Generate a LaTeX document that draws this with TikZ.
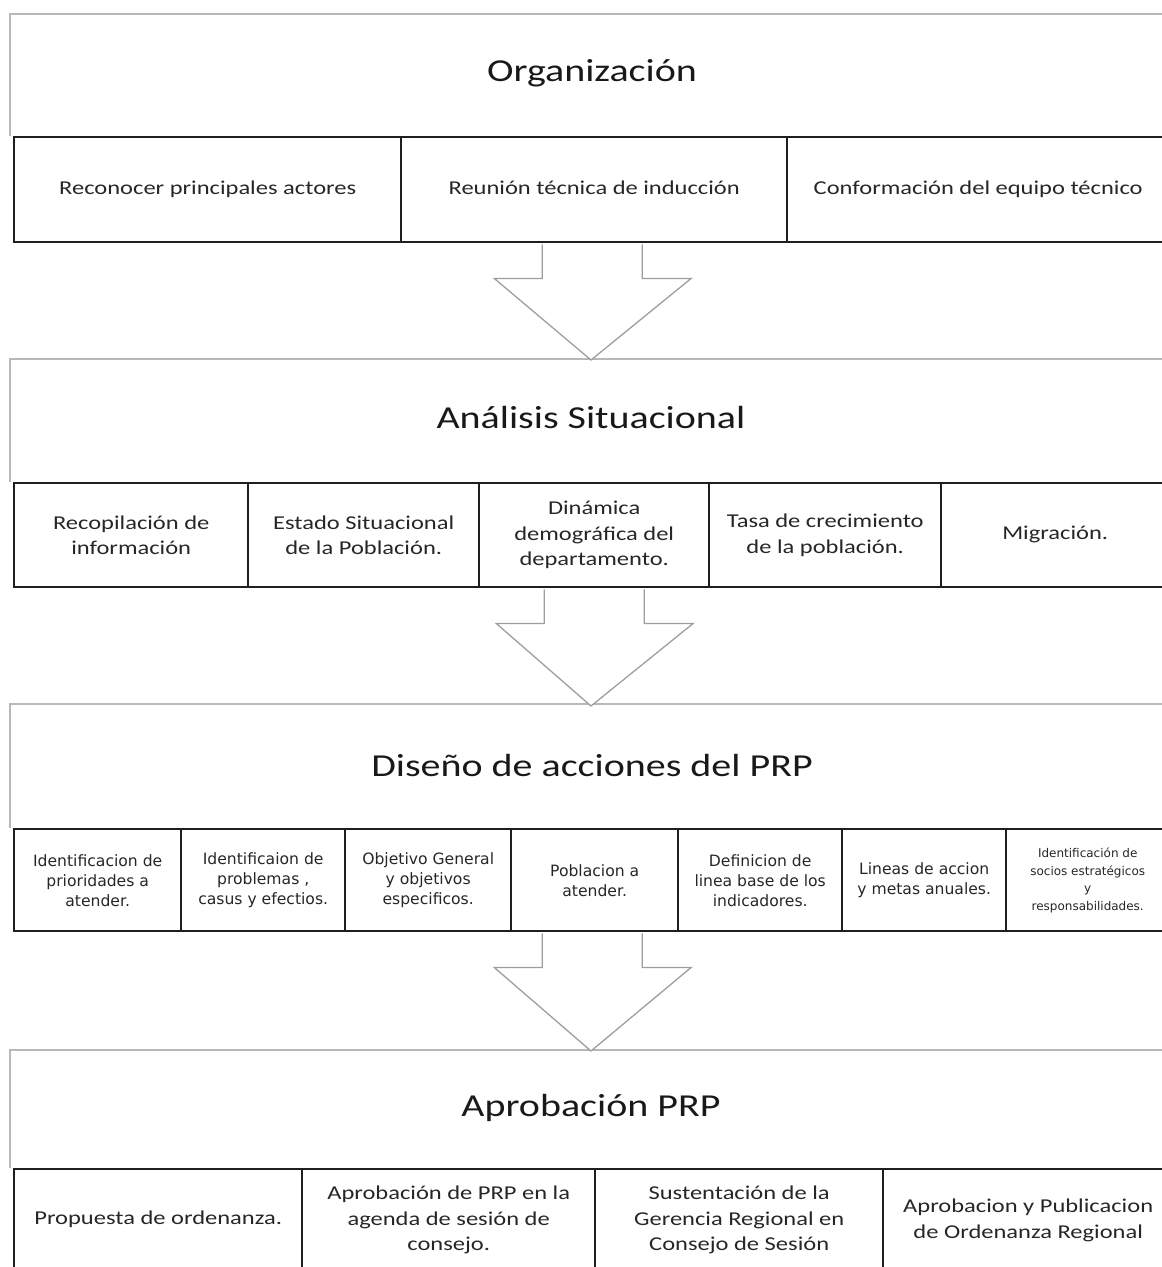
\documentclass[tikz,border=0pt]{standalone}
\usepackage{fontspec}
\setmainfont{Carlito}[FakeStretch=1.25]
\newfontfamily\smallfam{DejaVu Sans}
\usetikzlibrary{calc}
\tikzset{
  sectline/.style={draw=black!28, line width=1.3pt},
  blockarrow/.style={draw=black!38, line width=1.3pt, fill=white, line join=miter},
  cell/.style={draw=black!88, line width=2.4pt, inner sep=2pt, anchor=north west,
               align=center, text=black!85, font=\fontsize{19.6}{25.5}\selectfont},
  oneline/.style={cell, text height=13pt, text depth=4pt},
  cellsm/.style={cell, font=\smallfam\fontsize{15.6}{20}\selectfont},
  celltiny/.style={cell, font=\smallfam\fontsize{12}{17.5}\selectfont},
  ttl/.style={text=black!90, font=\fontsize{32}{38}\selectfont, inner sep=0pt}
}
\begin{document}
\begin{tikzpicture}[x=1pt,y=-1pt]
\useasboundingbox (0,0) rectangle (1162,1267);
\clip (0,0) rectangle (1162,1267);

% ---------- section frames (gray) ----------
\coordinate (t1) at (591,14);
\coordinate (t2) at (591,359);
\coordinate (t3) at (591,704);
\coordinate (t4) at (591,1050);
\draw[sectline] (10,136) -- (10,14) -- (1200,14);
\draw[sectline] (10,482) -- (10,359) -- (1200,359);
\draw[sectline] (10,828) -- (10,704) -- (1200,704);
\draw[sectline] (10,1168) -- (10,1050) -- (1200,1050);

% ---------- titles ----------
\node[ttl] (h1) at (592,73) {Organización};
\node[ttl] (h2) at (591,418) {Análisis Situacional};
\node[ttl] (h3) at (592,765) {Diseño de acciones del PRP};
\node[ttl] (h4) at (591,1108) {Aprobación PRP};

% ---------- row 1 ----------
\node[oneline, minimum width=387, minimum height=105] (a1) at (13,136) {Reconocer principales actores};
\node[oneline, minimum width=386, minimum height=105] (a2) at (400,136) {Reunión técnica de inducción};
\node[oneline, minimum width=382, minimum height=105] (a3) at (786,136) {Conformación del equipo técnico};

% ---------- row 2 ----------
\node[cell, minimum width=234, minimum height=104] (b1) at (13,482) {Recopilación de\\información};
\node[cell, minimum width=231, minimum height=104] (b2) at (247,482) {Estado Situacional\\de la Población.};
\node[cell, minimum width=230, minimum height=104] (b3) at (478,482) {Dinámica\\demográfica del\\departamento.};
\node[cell, minimum width=232, minimum height=104] (b4) at (708,482) {Tasa de crecimiento\\de la población.};
\node[oneline, minimum width=228, minimum height=104] (b5) at (940,482) {Migración.};

% ---------- row 3 ----------
\node[cellsm, minimum width=167, minimum height=102] (c1) at (13,828) {Identificacion de\\prioridades a\\atender.};
\node[cellsm, minimum width=164, minimum height=102] (c2) at (180,828) {Identificaion de\\problemas ,\\casus y efectios.};
\node[cellsm, minimum width=166, minimum height=102] (c3) at (344,828) {Objetivo General\\y objetivos\\especificos.};
\node[cellsm, minimum width=167, minimum height=102] (c4) at (510,828) {Poblacion a\\atender.};
\node[cellsm, minimum width=164, minimum height=102] (c5) at (677,828) {Definicion de\\linea base de los\\indicadores.};
\node[cellsm, minimum width=164, minimum height=102] (c6) at (841,828) {Lineas de accion\\y metas anuales.};
\node[celltiny, minimum width=163, minimum height=102] (c7) at (1005,828) {Identificación de\\socios estratégicos\\y\\responsabilidades.};

% ---------- row 4 ----------
\node[oneline, minimum width=288, minimum height=102] (d1) at (13,1168) {Propuesta de ordenanza.};
\node[cell, minimum width=293, minimum height=102] (d2) at (301,1168) {Aprobación de PRP en la\\agenda de sesión de\\consejo.};
\node[cell, minimum width=288, minimum height=102] (d3) at (594,1168) {Sustentación de la\\Gerencia Regional en\\Consejo de Sesión};
\node[cell, minimum width=290, minimum height=102] (d4) at (882,1168) {Aprobacion y Publicacion\\de Ordenanza Regional};

% ---------- block arrows ----------
\coordinate (s1) at ($(a2.south)+(-2,0)$);
\coordinate (s2) at (b3.south);
\coordinate (s3) at ($(c4.south)+(-2.5,0)$);
\draw[blockarrow] ($(s1)+(-50,1)$) -- ($(s1)+(-50,35)$) -- ($(s1)+(-98,35)$) -- ($(t2)+(0,1)$)
   -- ($(s1)+(99,35)$) -- ($(s1)+(50,35)$) -- ($(s1)+(50,1)$);
\draw[blockarrow] ($(s2)+(-50,1)$) -- ($(s2)+(-50,35)$) -- ($(s2)+(-98,35)$) -- ($(t3)+(0,2)$)
   -- ($(s2)+(99,35)$) -- ($(s2)+(50,35)$) -- ($(s2)+(50,1)$);
\draw[blockarrow] ($(s3)+(-50,1)$) -- ($(s3)+(-50,35)$) -- ($(s3)+(-98,35)$) -- ($(t4)+(0,1)$)
   -- ($(s3)+(99,35)$) -- ($(s3)+(50,35)$) -- ($(s3)+(50,1)$);
\end{tikzpicture}
\end{document}
